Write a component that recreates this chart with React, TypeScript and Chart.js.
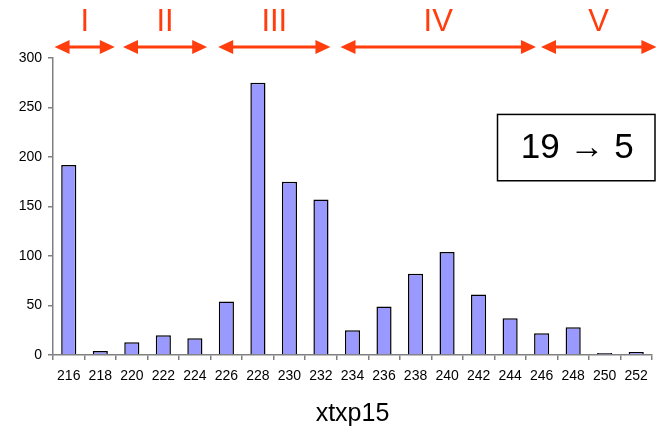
import React, { useEffect, useRef } from "react";
import { Chart, registerables } from "chart.js";

Chart.register(...registerables);

const categories = ["216","218","220","222","224","226","228","230","232","234","236","238","240","242","244","246","248","250","252"];
const counts = [192, 4, 13, 20, 17, 54, 275, 175, 157, 25, 49, 82, 104, 61, 37, 22, 28, 1, 3];
const yTicks = [0, 50, 100, 150, 200, 250, 300];
const axisTitle = "xtxp15";
// groups: label, start and end as fractional category positions
const groupLabels = ["I", "II", "III", "IV", "V"];
const groupStarts = [-0.45, 1.72, 4.74, 8.62, 14.98];
const groupEnds = [1.46, 4.39, 8.3, 14.82, 18.64];
const boxText = "19 \u2192 5";
// box corners in data coordinates: [x from, x to] category fraction, [y top, y bottom] value
const boxX = [13.6, 18.7];
const boxY = [243, 176];

const RED = "#FF3D0D";
const FONT = "'Liberation Sans', Arial, sans-serif";

const overlay = {
  id: "overlay",
  afterDraw(chart: any) {
    const ctx = chart.ctx;
    const xs = chart.scales.x;
    const ys = chart.scales.y;
    const arrowY = 47;
    ctx.save();
    groupLabels.forEach((lab, i) => {
      const x0 = xs.getPixelForValue(groupStarts[i]);
      const x1 = xs.getPixelForValue(groupEnds[i]);
      ctx.strokeStyle = RED;
      ctx.fillStyle = RED;
      ctx.lineWidth = 3;
      const ah = 15, aw = 7;
      ctx.beginPath();
      ctx.moveTo(x0 + ah - 2, arrowY);
      ctx.lineTo(x1 - ah + 2, arrowY);
      ctx.stroke();
      ctx.beginPath();
      ctx.moveTo(x0, arrowY);
      ctx.lineTo(x0 + ah, arrowY - aw);
      ctx.lineTo(x0 + ah, arrowY + aw);
      ctx.closePath();
      ctx.fill();
      ctx.beginPath();
      ctx.moveTo(x1, arrowY);
      ctx.lineTo(x1 - ah, arrowY - aw);
      ctx.lineTo(x1 - ah, arrowY + aw);
      ctx.closePath();
      ctx.fill();
      ctx.font = `31px ${FONT}`;
      ctx.textAlign = "center";
      ctx.textBaseline = "middle";
      ctx.fillText(lab, (x0 + x1) / 2, 22);
    });
    // box
    const bx0 = xs.getPixelForValue(boxX[0]);
    const bx1 = Math.min(xs.getPixelForValue(boxX[1]), chart.width - 1);
    const by0 = ys.getPixelForValue(boxY[0]);
    const by1 = ys.getPixelForValue(boxY[1]);
    ctx.fillStyle = "#ffffff";
    ctx.fillRect(bx0, by0, bx1 - bx0, by1 - by0);
    ctx.strokeStyle = "#000";
    ctx.lineWidth = 1.5;
    ctx.strokeRect(bx0, by0, bx1 - bx0, by1 - by0);
    ctx.fillStyle = "#000";
    ctx.font = `35px ${FONT}`;
    ctx.textAlign = "center";
    ctx.textBaseline = "middle";
    ctx.fillText(boxText, (bx0 + bx1) / 2 + 1, (by0 + by1) / 2 + 1);
    ctx.restore();
  },
};

export default function App() {
  const ref = useRef<HTMLCanvasElement>(null);
  useEffect(() => {
    document.body.style.margin = "0";
    const chart = new Chart(ref.current!, {
      type: "bar",
      data: {
        labels: categories,
        datasets: [
          {
            data: counts,
            backgroundColor: "#9999FF",
            borderColor: "#000000",
            borderWidth: 1.5,
            barPercentage: 0.48,
            categoryPercentage: 1,
            minBarLength: 2,
          },
        ],
      },
      options: {
        animation: false,
        responsive: false,
        maintainAspectRatio: false,
        layout: { padding: { top: 58, right: 4, left: 0, bottom: 0 } },
        plugins: { legend: { display: false }, tooltip: { enabled: false } },
        scales: {
          x: {
            grid: { drawOnChartArea: false, drawTicks: true, tickLength: 5, color: "#808080", lineWidth: 1.5, offset: true },
            border: { color: "#808080", width: 1.5 },
            ticks: { color: "#000", font: { family: FONT, size: 14 }, padding: 8, maxRotation: 0, autoSkip: false },
            title: { display: true, text: axisTitle, color: "#000", font: { family: FONT, size: 25 }, padding: { top: 14, bottom: 0 } },
            afterFit(s: any) { s.height = 74; },
          },
          y: {
            min: 0,
            max: 300,
            afterBuildTicks(s: any) { s.ticks = yTicks.map((v) => ({ value: v })); },
            grid: { drawOnChartArea: false, drawTicks: true, tickLength: 5, color: "#808080", lineWidth: 1.5 },
            border: { color: "#808080", width: 1.5 },
            ticks: { color: "#000", font: { family: FONT, size: 14 }, padding: 6 },
            afterFit(s: any) { s.width = 53; },
          },
        },
      },
      plugins: [overlay],
    });
    return () => chart.destroy();
  }, []);
  return (
    <div style={{ width: 656, height: 429 }}>
      <canvas ref={ref} width={656} height={429} style={{ width: 656, height: 429 }} />
    </div>
  );
}
